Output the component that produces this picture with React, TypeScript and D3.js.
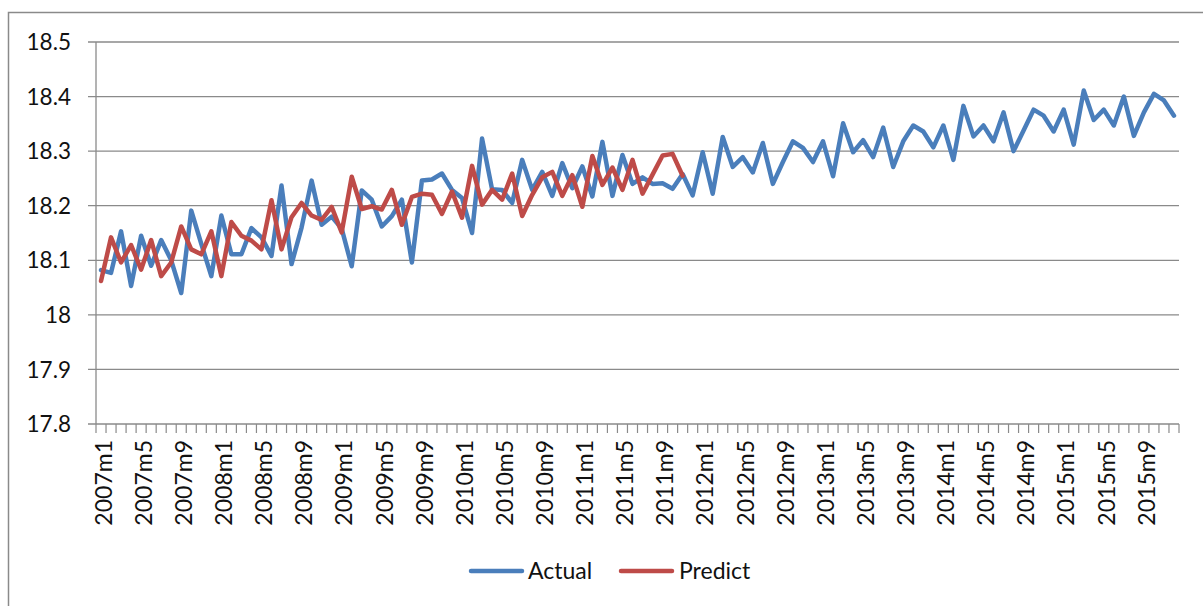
import React from "react";
import * as d3 from "d3";

const years = [2007, 2008, 2009, 2010, 2011, 2012, 2013, 2014, 2015];
const months = [1, 2, 3, 4, 5, 6, 7, 8, 9, 10, 11, 12];
const categories: string[] = years.flatMap((y) => months.map((m) => `${y}m${m}`));

const actual: number[] = [
  18.082, 18.077, 18.153, 18.053, 18.145, 18.09, 18.137, 18.1, 18.04, 18.191,
  18.13, 18.071, 18.182, 18.111, 18.111, 18.159, 18.142, 18.108, 18.237, 18.093,
  18.16, 18.246, 18.165, 18.18, 18.158, 18.089, 18.228,
  18.211, 18.162, 18.181, 18.211, 18.096, 18.246, 18.248, 18.259, 18.229, 18.214,
  18.15, 18.323, 18.23, 18.229, 18.205, 18.284, 18.229, 18.262, 18.218, 18.278,
  18.232, 18.272, 18.217, 18.317, 18.218, 18.293, 18.24,
  18.252, 18.24, 18.241, 18.231, 18.258, 18.219, 18.298, 18.222, 18.326, 18.271,
  18.289, 18.261, 18.315, 18.24, 18.28, 18.318, 18.306, 18.28, 18.318, 18.254,
  18.351, 18.298, 18.32, 18.289, 18.343, 18.271, 18.318,
  18.347, 18.336, 18.307, 18.347, 18.284, 18.383, 18.327, 18.347, 18.318, 18.371,
  18.3, 18.338, 18.376, 18.365, 18.336, 18.376, 18.312, 18.411, 18.357, 18.376,
  18.347, 18.4, 18.328, 18.371, 18.405, 18.393, 18.365,
];

const predict: number[] = [
  18.062, 18.142, 18.096, 18.128, 18.083, 18.137, 18.071, 18.096, 18.162, 18.12,
  18.111, 18.153, 18.071, 18.17, 18.145, 18.136, 18.12, 18.21, 18.12, 18.179,
  18.205, 18.182, 18.174, 18.198, 18.151, 18.253, 18.194,
  18.199, 18.193, 18.229, 18.165, 18.216, 18.222, 18.22, 18.185, 18.226, 18.178,
  18.273, 18.202, 18.229, 18.211, 18.259, 18.181, 18.22, 18.252, 18.262, 18.218,
  18.256, 18.198, 18.291, 18.238, 18.27, 18.229, 18.284,
  18.222, 18.257, 18.292, 18.295, 18.255,
];

const yTicks = [17.8, 17.9, 18.0, 18.1, 18.2, 18.3, 18.4, 18.5];

const W = 1203;
const H = 606;
const left = 96;
const right = 1179;
const top = 42;
const bottom = 424;
const FONT = "Lato, 'Open Sans', sans-serif";
const GRID = "#8a8a8a";
const BLUE = "#4a7ebb";
const RED = "#be4b48";

export default function App() {
  const x = d3.scaleBand<string>().domain(categories).range([left, right]).padding(0);
  const y = d3.scaleLinear().domain([17.8, 18.5]).range([bottom, top]);
  const cx = (i: number) => (x(categories[i]) as number) + x.bandwidth() / 2;

  const line = d3
    .line<number>()
    .x((_, i) => cx(i))
    .y((d) => y(d));

  const boundaries = d3.range(categories.length + 1).map((i) => left + i * x.bandwidth());

  return (
    <svg
      width={W}
      height={H}
      style={{ position: "absolute", left: 0, top: 0, background: "#fff" }}
      fontFamily={FONT}
    >
      <rect x={8.5} y={12.5} width={1210} height={610} fill="#fff" stroke={GRID} strokeWidth={1.5} />
      {yTicks.map((t) => (
        <g key={t}>
          <line x1={left - 8} x2={right} y1={y(t)} y2={y(t)} stroke={GRID} strokeWidth={1.3} />
          <text x={71} y={y(t)} dy="0.36em" textAnchor="end" fontSize={22.5} fill="#111">
            {d3.format("")(+t.toFixed(1))}
          </text>
        </g>
      ))}
      <line x1={left} x2={left} y1={top} y2={bottom} stroke={GRID} strokeWidth={1.3} />
      {boundaries.map((bx, i) => (
        <line key={i} x1={bx} x2={bx} y1={bottom} y2={bottom + 9} stroke={GRID} strokeWidth={1.2} />
      ))}
      {categories.map((c, i) =>
        i % 4 === 0 ? (
          <text
            key={c}
            transform={`translate(${cx(i) + 2.5},${440}) rotate(-90)`}
            dy="0.36em"
            textAnchor="end"
            fontSize={23}
            fill="#111"
          >
            {c}
          </text>
        ) : null
      )}
      <path d={line(actual) ?? ""} fill="none" stroke={BLUE} strokeWidth={4.5} strokeLinejoin="round" strokeLinecap="round" />
      <path d={line(predict) ?? ""} fill="none" stroke={RED} strokeWidth={4.5} strokeLinejoin="round" strokeLinecap="round" />
      <g>
        <line x1={471} x2={522} y1={571} y2={571} stroke={BLUE} strokeWidth={4.5} strokeLinecap="round" />
        <text x={528} y={571} dy="0.36em" fontSize={23} fill="#111">Actual</text>
        <line x1={621} x2={672} y1={571} y2={571} stroke={RED} strokeWidth={4.5} strokeLinecap="round" />
        <text x={679} y={571} dy="0.36em" fontSize={23} fill="#111">Predict</text>
      </g>
    </svg>
  );
}
